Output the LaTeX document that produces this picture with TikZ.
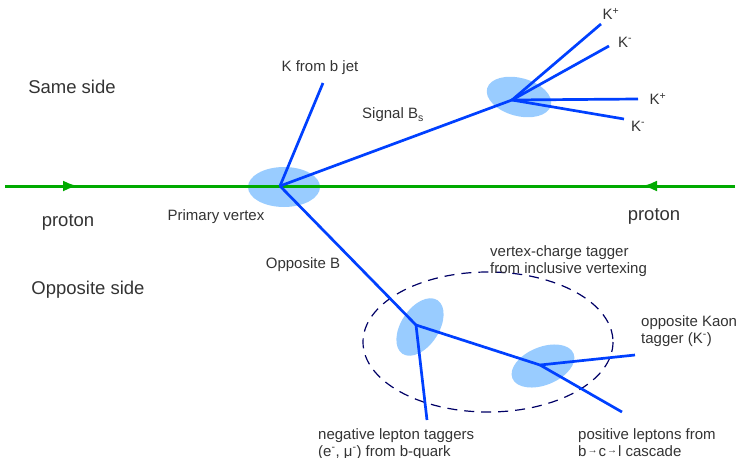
\documentclass[tikz,border=0pt]{standalone}
\usepackage{fontspec}
\setmainfont{Liberation Sans}
\usepackage{tikz}
\usetikzlibrary{arrows.meta, positioning}
\usepackage{xcolor}
\definecolor{track}{RGB}{0, 64, 255}
\definecolor{vtx}{RGB}{153, 204, 255}
\definecolor{beamc}{RGB}{0, 170, 0}
\definecolor{txt}{RGB}{51, 51, 51}
\definecolor{navy}{RGB}{0, 0, 102}
\newcommand{\decayto}{\kern1pt\raisebox{2.5pt}{\fontsize{10}{12}\selectfont\textrightarrow}\kern1pt}

\begin{document}
\begin{tikzpicture}[
    x=1pt, y=-1pt,
    beam/.style={draw=beamc, line width=3pt},
    trk/.style={draw=track, line width=2.7pt},
    blob/.style={fill=vtx, draw=none},
    side/.style={font=\fontsize{18.5}{22}\selectfont, text=txt},
    lbl/.style={font=\fontsize{15}{17}\selectfont, text=txt, inner sep=0pt},
    multi/.style={lbl, align=left, anchor=north west}
]
\useasboundingbox (0,0) rectangle (740,458);

% vertex regions
\fill[blob] (284,187) ellipse [x radius=36, y radius=20];
\fill[blob, rotate around={-15:(519,97)}] (519,97) ellipse [x radius=33, y radius=19];
\fill[blob, rotate around={57:(420,327)}] (420,327) ellipse [x radius=32, y radius=19];
\fill[blob, rotate around={22:(543,366)}] (543,366) ellipse [x radius=33, y radius=19];
\draw[navy, dash pattern=on 10pt off 7pt, line width=1.2pt] (488,342) ellipse [x radius=125, y radius=70];

% points
\coordinate (pv) at (280,186);
\coordinate (bs) at (512,100);
\coordinate (ob) at (416,325);
\coordinate (cv) at (540,365);
\coordinate (beamL) at (5,186);
\coordinate (beamR) at (735,186);
\coordinate (arrL) at (78,186);
\coordinate (arrR) at (642,186);

% beam
\draw[beam] (beamL) -- (beamR);
\draw[beam, -{Latex[length=15pt, width=11pt]}] (beamL) -- (arrL);
\draw[beam, -{Latex[length=15pt, width=11pt]}] (beamR) -- (arrR);

% tracks
\coordinate (kjet) at (323,83);
\coordinate (k1) at (601,24);
\coordinate (k2) at (609,46);
\coordinate (k3) at (638,99);
\coordinate (k4) at (624,119);
\coordinate (lepn) at (427,420);
\coordinate (kopp) at (635,355);
\coordinate (lepp) at (622,412);
\draw[trk] (pv) -- (kjet);
\draw[trk] (pv) -- (bs);
\draw[trk] (pv) -- (ob);
\foreach \k in {k1,k2,k3,k4} \draw[trk] (bs) -- (\k);
\draw[trk] (ob) -- (lepn);
\draw[trk] (ob) -- (cv);
\draw[trk] (cv) -- (kopp);
\draw[trk] (cv) -- (lepp);

% labels
\node[side] (same) at (72,87) {Same side};
\node[side] (opp) at (88,290) {Opposite side};
\node[side] (protL) at (68,222) {proton};
\node[side] (protR) at (654,216) {proton};
\node[lbl] (pvl) at (216,217) {Primary vertex};
\node[lbl] (obl) at (303,265) {Opposite B};
\node[lbl] (kjl) at (320,68) {K from b jet};
\node[lbl] (bsl) at (393,115) {Signal B\textsubscript{s}};
\node[lbl] (k1l) at (611,14) {K\textsuperscript{+}};
\node[lbl] (k2l) at (625,42) {K\textsuperscript{-}};
\node[lbl] (k3l) at (658,99) {K\textsuperscript{+}};
\node[lbl] (k4l) at (638,126) {K\textsuperscript{-}};
\node[multi] (vcl) at (490,245) {vertex-charge tagger\\from inclusive vertexing};
\node[multi] (kol) at (641,315) {opposite Kaon\\tagger (K\textsuperscript{-})};
\node[multi] (lnl) at (318,428) {negative lepton taggers\\(e\textsuperscript{-}, μ\textsuperscript{-}) from b-quark};
\node[multi] (lpl) at (578,428) {positive leptons from\\b\decayto c\decayto l cascade};

\end{tikzpicture}
\end{document}
